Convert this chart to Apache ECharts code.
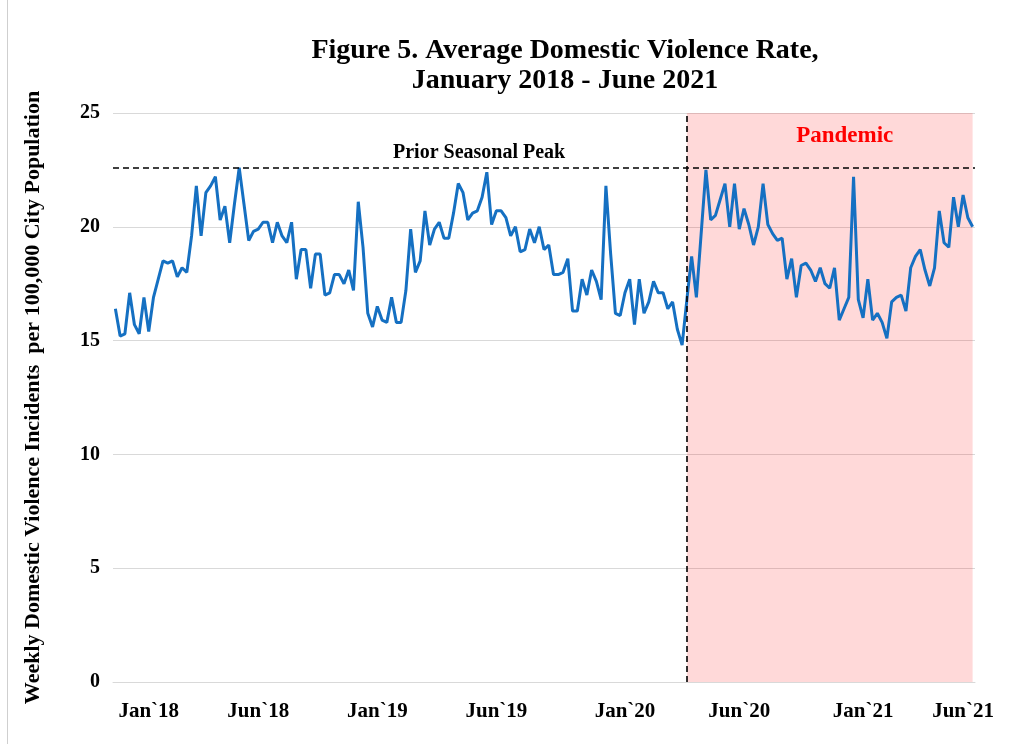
<!DOCTYPE html>
<html>
<head>
<meta charset="utf-8">
<title>Figure 5. Average Domestic Violence Rate</title>
<script src="https://cdn.jsdelivr.net/npm/echarts@6/dist/echarts.min.js"></script>
<style>
  html, body { margin: 0; padding: 0; background: #fff; }
  #chart { width: 1016px; height: 744px; }
  /* thin frame line on the left, as in the source figure */
  #frame { position: absolute; left: 7px; top: 0; width: 1px; height: 744px; background: #cfcfcf; }
</style>
</head>
<body>
<div id="frame"></div>
<div id="chart"></div>
<script>
// weekly rate per 100,000
const prePandemic = [
  16.4, 15.2, 15.3, 17.1, 15.7, 15.3, 16.9, 15.4, 16.9, 17.7,
  18.5, 18.4, 18.5, 17.8, 18.2, 18.0, 19.6, 21.8, 19.6, 21.5,
  21.8, 22.2, 20.3, 20.9, 19.3, 21.0, 22.6, 21.0, 19.4, 19.8,
  19.9, 20.2, 20.2, 19.3, 20.2, 19.6, 19.3, 20.2, 17.7, 19.0,
  19.0, 17.3, 18.8, 18.8, 17.0, 17.1, 17.9, 17.9, 17.5, 18.1,
  17.2, 21.1, 19.1, 16.2, 15.6, 16.5, 15.9, 15.8, 16.9, 15.8,
  15.8, 17.2, 19.9, 18.0, 18.5, 20.7, 19.2, 19.9, 20.2, 19.5,
  19.5, 20.6, 21.9, 21.5, 20.3, 20.6, 20.7, 21.3, 22.4, 20.1,
  20.7, 20.7, 20.4, 19.6, 20.0, 18.9, 19.0, 19.9, 19.3, 20.0,
  19.0, 19.2, 17.9, 17.9, 18.0, 18.6, 16.3, 16.3, 17.7, 17.0,
  18.1, 17.6, 16.8, 21.8, 18.8, 16.2, 16.1, 17.1, 17.7, 15.7,
  17.7, 16.2, 16.7, 17.6, 17.1, 17.1, 16.4, 16.7, 15.5, 14.8
]
const pandemic = [
  16.8, 18.7, 16.9, 19.7, 22.5, 20.3, 20.5, 21.2, 21.9, 20.0,
  21.9, 19.9, 20.8, 20.1, 19.2, 20.0, 21.9, 20.1, 19.7, 19.4,
  19.5, 17.7, 18.6, 16.9, 18.3, 18.4, 18.1, 17.6, 18.2, 17.5,
  17.3, 18.2, 15.9, 16.4, 16.9, 22.2, 16.8, 16.0, 17.7, 15.9,
  16.2, 15.8, 15.1, 16.7, 16.9, 17.0, 16.3, 18.2, 18.7, 19.0,
  18.1, 17.4, 18.2, 20.7, 19.3, 19.1, 21.3, 20.0, 21.4, 20.4, 20.0
]
const priorPeak = 22.6

// x axis labels and the week they sit under
const tickLabels = ['Jan`18', 'Jun`18', 'Jan`19', 'Jun`19', 'Jan`20', 'Jun`20', 'Jan`21', 'Jun`21']
const tickWeeks = [7, 30, 55, 80, 107, 131, 157, 178]

const rates = prePandemic.concat(pandemic)
const weeks = rates.map((_, i) => 'W' + (i + 1))
const startIdx = prePandemic.length

const serif = '"Liberation Serif", "Times New Roman", serif'

const chart = echarts.init(document.getElementById('chart'))

chart.setOption({
  animation: false,
  textStyle: { fontFamily: serif },
  title: {
    text: 'Figure 5. Average Domestic Violence Rate,\nJanuary 2018 - June 2021',
    left: 560,
    top: 31,
    textAlign: 'center',
    textStyle: {
      fontFamily: serif,
      fontSize: 28,
      fontWeight: 'bold',
      color: '#000',
      lineHeight: 30
    }
  },
  grid: { left: 113, right: 41, top: 113, bottom: 62 },
  xAxis: {
    type: 'category',
    data: weeks,
    boundaryGap: true,
    axisLine: { lineStyle: { color: '#d9d9d9', width: 1 } },
    axisTick: { show: false },
    axisLabel: {
      interval: (idx) => tickWeeks.includes(idx),
      formatter: (val, idx) => tickLabels[tickWeeks.indexOf(idx)] || '',
      fontFamily: serif,
      fontSize: 21,
      fontWeight: 'bold',
      color: '#000',
      margin: 19,
      hideOverlap: false
    }
  },
  yAxis: {
    type: 'value',
    min: 0,
    max: 25,
    interval: 5,
    name: 'Weekly Domestic Violence Incidents  per 100,000 City Population',
    nameLocation: 'middle',
    nameRotate: 90,
    nameGap: 69,
    nameTextStyle: {
      fontFamily: serif,
      fontSize: 22,
      fontWeight: 'bold',
      color: '#000'
    },
    axisLine: { show: false },
    axisTick: { show: false },
    axisLabel: {
      fontFamily: serif,
      fontSize: 20,
      fontWeight: 'bold',
      color: '#000',
      margin: 13
    },
    splitLine: { lineStyle: { color: '#d9d9d9', width: 1 } }
  },
  series: [
    {
      type: 'line',
      data: rates,
      showSymbol: false,
      lineStyle: { color: '#1570c2', width: 3 },
      z: 2,
      markLine: {
        silent: true,
        symbol: ['none', 'none'],
        lineStyle: { color: '#000', type: [6, 4], width: 1.6 },
        data: [
          {
            yAxis: priorPeak,
            label: {
              show: true,
              formatter: 'Prior Seasonal Peak',
              position: 'insideStartTop',
              distance: [280, 5],
              fontFamily: serif,
              fontSize: 20,
              fontWeight: 'bold',
              color: '#000'
            }
          },
          { xAxis: weeks[startIdx], label: { show: false } }
        ]
      }
    },
    {
      // pink overlay for the pandemic period, on its own layer above the line
      type: 'line',
      data: [],
      zlevel: 1,
      silent: true,
      markArea: {
        silent: true,
        itemStyle: { color: 'rgba(255, 0, 0, 0.15)' },
        label: {
          show: true,
          position: 'insideTop',
          distance: 12,
          offset: [15, 0],
          fontFamily: serif,
          fontSize: 23,
          fontWeight: 'bold',
          color: '#ff0000'
        },
        data: [[
          { name: 'Pandemic', xAxis: weeks[startIdx], yAxis: 25 },
          { xAxis: weeks[weeks.length - 1], yAxis: 0 }
        ]]
      }
    }
  ]
})
</script>
</body>
</html>
